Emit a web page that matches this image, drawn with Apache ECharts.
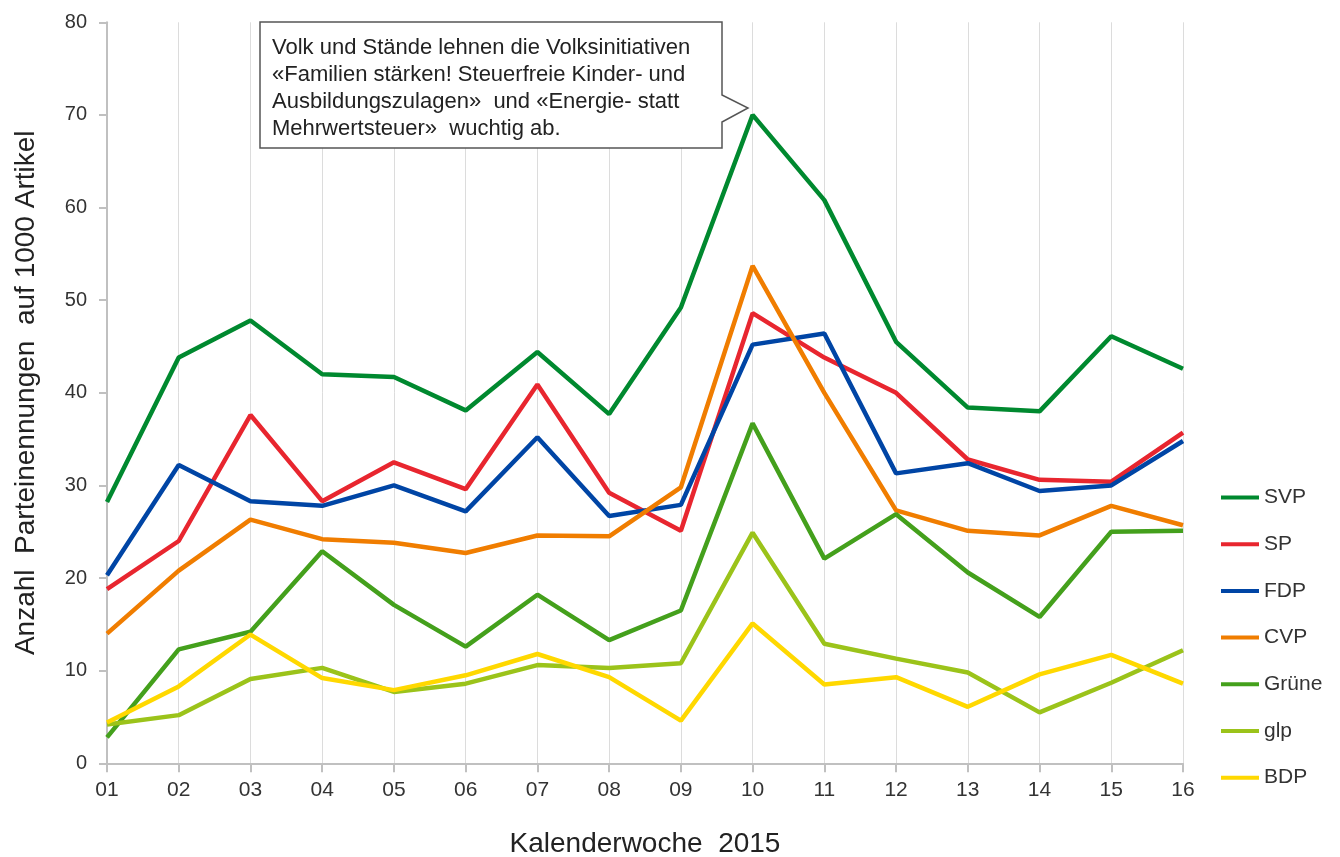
<!DOCTYPE html>
<html>
<head>
<meta charset="utf-8">
<script src="https://cdn.jsdelivr.net/npm/echarts@6/dist/echarts.min.js"></script>
<style>html,body{margin:0;padding:0;background:#fff}#c{width:1340px;height:857px}</style>
</head>
<body>
<div id="c"></div>
<script>
const weeks = ['01','02','03','04','05','06','07','08','09','10','11','12','13','14','15','16'];
const svp   = [28.2,43.8,47.8,42.0,41.7,38.1,44.4,37.7,49.2,70.0,60.8,45.5,38.4,38.0,46.1,42.6];
const sp    = [18.8,24.0,37.6,28.3,32.5,29.6,40.9,29.2,25.1,48.6,43.8,40.0,32.8,30.6,30.4,35.7];
const fdp   = [20.3,32.2,28.3,27.8,30.0,27.2,35.2,26.7,27.9,45.2,46.4,31.3,32.4,29.4,30.0,34.8];
const cvp   = [14.0,20.8,26.3,24.2,23.8,22.7,24.6,24.5,29.8,53.7,40.0,27.3,25.1,24.6,27.8,25.7];
const gruene= [2.8,12.3,14.2,22.9,17.1,12.6,18.2,13.3,16.5,36.7,22.1,26.9,20.6,15.8,25.0,25.1];
const glp   = [4.2,5.2,9.1,10.3,7.7,8.6,10.6,10.3,10.8,24.9,12.9,11.3,9.8,5.5,8.7,12.2];
const bdp   = [4.4,8.3,13.9,9.2,7.9,9.5,11.8,9.3,4.6,15.1,8.5,9.3,6.1,9.6,11.7,8.6];
const seriesNames = ['SVP','SP','FDP','CVP','Grüne','glp','BDP'];
const seriesData = [svp, sp, fdp, cvp, gruene, glp, bdp];
const colors = ['#00892F','#E8262F','#0045A5','#F07D00','#44A01C','#9BC31A','#FFD800'];
const annotation = ['Volk und Stände lehnen die Volksinitiativen',
  '«Familien stärken! Steuerfreie Kinder- und',
  'Ausbildungszulagen»  und «Energie- statt',
  'Mehrwertsteuer»  wuchtig ab.'];

const chart = echarts.init(document.getElementById('c'), null, {renderer:'canvas'});
const font = 'Liberation Sans, Arial, sans-serif';
chart.setOption({
  animation:false,
  textStyle:{fontFamily:font},
  grid:{left:107, right:157, top:22.3, bottom:93.7, containLabel:false, outerBoundsMode:'none'},
  legend:{
    orient:'vertical', left:1216, top:482, itemWidth:38, itemHeight:4, itemGap:25.7,
    icon:'rect',
    data:seriesNames,
    textStyle:{fontSize:21, color:'#333', fontFamily:font, lineHeight:21}
  },
  xAxis:{
    type:'category', data:weeks, boundaryGap:false,
    name:'Kalenderwoche  2015', nameLocation:'middle', nameGap:67,
    nameTextStyle:{fontSize:28, color:'#222', fontFamily:font},
    axisLine:{lineStyle:{color:'#C0C0C0', width:2}},
    axisTick:{show:true, length:9, lineStyle:{color:'#C0C0C0', width:2}},
    axisLabel:{fontSize:21, color:'#333', margin:16},
    splitLine:{show:true, lineStyle:{color:'#DCDCDC', width:1}}
  },
  yAxis:{
    type:'value', min:0, max:80, interval:10,
    name:'Anzahl  Parteinennungen  auf 1000 Artikel', nameLocation:'middle', nameGap:67,
    nameTextStyle:{fontSize:28, color:'#222', fontFamily:font},
    axisLine:{show:true, lineStyle:{color:'#C0C0C0', width:2}},
    axisTick:{show:true, length:8, lineStyle:{color:'#C0C0C0', width:2}},
    axisLabel:{fontSize:20, color:'#333', margin:20},
    splitLine:{show:false}
  },
  series: seriesNames.map((n,i)=>({
    name:n, type:'line', data:seriesData[i], symbol:'none',
    lineStyle:{width:4.5, color:colors[i]}, itemStyle:{color:colors[i]}
  })),
  graphic:[
    {type:'polygon', z:100,
     shape:{points:[[260,22],[722,22],[722,95],[748,108],[722,122],[722,148],[260,148]]},
     style:{fill:'#fff', stroke:'#555', lineWidth:1.5}},
    {type:'text', z:101, left:272, top:34,
     style:{text:annotation.join('\n'), font:'22px '+font, fill:'#222', lineHeight:27}}
  ]
});
</script>
</body>
</html>
